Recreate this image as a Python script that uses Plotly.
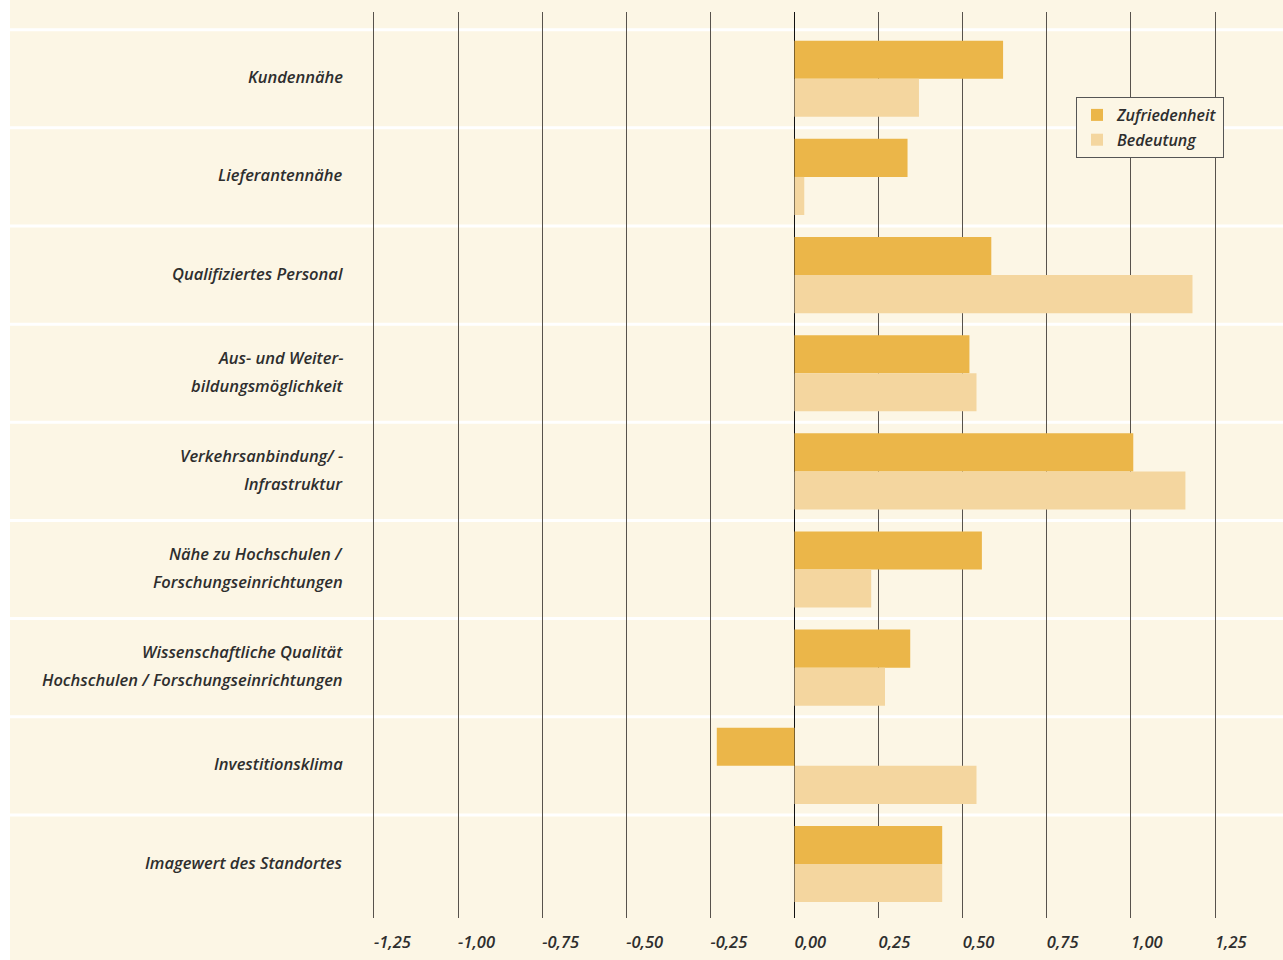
import plotly.graph_objects as go

categories = [
    "Kundennähe",
    "Lieferantennähe",
    "Qualifiziertes Personal",
    "Aus- und Weiter-<br>bildungsmöglichkeit",
    "Verkehrsanbindung/ -<br>Infrastruktur",
    "Nähe zu Hochschulen /<br>Forschungseinrichtungen",
    "Wissenschaftliche Qualität<br>Hochschulen / Forschungseinrichtungen",
    "Investitionsklima",
    "Imagewert des Standortes",
]
zufriedenheit = [0.62, 0.336, 0.585, 0.52, 1.007, 0.557, 0.344, -0.231, 0.439]
bedeutung = [0.37, 0.029, 1.183, 0.541, 1.162, 0.228, 0.269, 0.541, 0.439]
tick_vals = [-1.25, -1.0, -0.75, -0.5, -0.25, 0.0, 0.25, 0.5, 0.75, 1.0, 1.25]
tick_text = ["-1,25", "-1,00", "-0,75", "-0,50", "-0,25", "0,00", "0,25", "0,50", "0,75", "1,00", "1,25"]

CREAM = "#FCF6E5"
DARK = "#EBB649"
LIGHT = "#F4D69F"
TEXT = "#2e2e2e"
FONT = "Open Sans"

W, H = 1283, 960
L, R, T, B = 358, 52, 12, 42
PW = W - L - R

ypos = list(range(len(categories)))

fig = go.Figure()
fig.add_trace(go.Bar(
    y=ypos, x=zufriedenheit, orientation="h", name="Zufriedenheit",
    marker=dict(color=DARK, line=dict(width=0)), legendgroup="a",
))
fig.add_trace(go.Bar(
    y=ypos, x=bedeutung, orientation="h", name="Bedeutung",
    marker=dict(color=LIGHT, line=dict(width=0)), legendgroup="b",
))

shapes = []
# white left strip
shapes.append(dict(type="rect", xref="paper", yref="paper",
                   x0=(0 - L) / PW, x1=(10 - L) / PW, y0=-0.2, y1=1.2,
                   fillcolor="white", line=dict(width=0), layer="below"))
# white separators between categories
for k in range(len(categories)):
    shapes.append(dict(type="line", xref="paper", yref="y",
                       x0=(10 - L) / PW, x1=(W - L) / PW,
                       y0=k - 0.5, y1=k - 0.5,
                       line=dict(color="white", width=3), layer="below"))

annotations = []
for i, lab in enumerate(categories):
    parts = lab.split("<br>")
    if len(parts) == 1:
        shifts = [2]
    else:
        shifts = [16, -12]
    for p, s in zip(parts, shifts):
        annotations.append(dict(
            xref="paper", yref="y", x=0, y=i, xanchor="right", yanchor="middle",
            xshift=-13, yshift=s, text=p, showarrow=False,
            font=dict(family=FONT, size=16.5, color=TEXT, style="italic", weight=600),
        ))

fig.update_layout(
    width=W, height=H,
    margin=dict(l=L, r=R, t=T, b=B, pad=0, autoexpand=False),
    paper_bgcolor=CREAM,
    plot_bgcolor="rgba(0,0,0,0)",
    barmode="group",
    bargap=0.224,
    bargroupgap=0,
    showlegend=True,
    legend=dict(
        x=(1076 - L) / PW, y=(H - B - 97) / (H - T - B), xanchor="left", yanchor="top",
        bgcolor=CREAM, bordercolor="#555", borderwidth=1,
        font=dict(family=FONT, size=16, color=TEXT, style="italic", weight=600),
        traceorder="grouped", tracegroupgap=1,
    ),
    xaxis=dict(
        range=[-1.2975, 1.2975],
        automargin=False,
        tickvals=tick_vals, ticktext=tick_text,
        showgrid=True, gridcolor="#57524c", gridwidth=1.3,
        zeroline=True, zerolinecolor="#111", zerolinewidth=1.3,
        showline=False, ticks="",
        ticklabelposition="outside right",
        ticklabelstandoff=12,
        tickfont=dict(family=FONT, size=16.5, color=TEXT, style="italic", weight=600),
        fixedrange=True,
    ),
    yaxis=dict(
        range=[8.55, -0.68],
        automargin=False,
        showticklabels=False, showgrid=False, zeroline=False, showline=False,
        ticks="", fixedrange=True,
    ),
    shapes=shapes,
    annotations=annotations,
)

fig.write_html(
    "out.html",
    config={"displayModeBar": False},
    post_script="document.body.style.margin='0';document.body.style.overflow='hidden';",
)
